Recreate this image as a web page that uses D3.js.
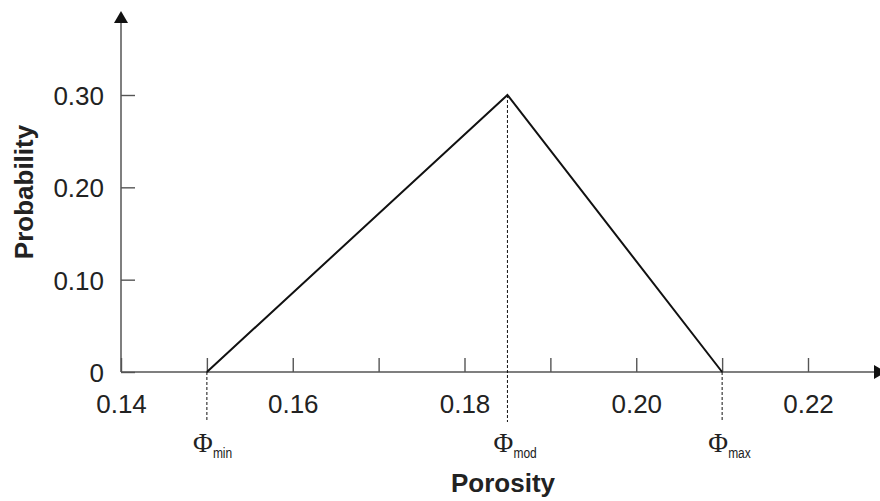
<!DOCTYPE html>
<html>
<head>
<meta charset="utf-8">
<script src="https://cdn.jsdelivr.net/npm/d3@7"></script>
<style>
  body { margin: 0; background: #fff; }
  svg { display: block; }
  .tick text { font-family: "Liberation Sans", Arial, sans-serif; font-size: 26px; fill: #222; }
  .tick line { stroke: #555; stroke-width: 1.4; }
  .label { font-family: "Liberation Sans", Arial, sans-serif; font-size: 26px; font-weight: bold; fill: #222; }
  .phi { font-family: "Liberation Serif", "Times New Roman", serif; font-size: 27px; fill: #222; }
  .sub { font-family: "Liberation Sans", Arial, sans-serif; font-size: 15px; fill: #222; }
</style>
</head>
<body>
<script>
// data
var xTicks = [0.14, 0.15, 0.16, 0.17, 0.18, 0.19, 0.20, 0.21, 0.22];
var xTickLabels = ["0.14", "", "0.16", "", "0.18", "", "0.20", "", "0.22"];
var yTicks = [0, 0.10, 0.20, 0.30];
var yTickLabels = ["0", "0.10", "0.20", "0.30"];
var porosity = [0.15, 0.185, 0.21];
var probability = [0, 0.30, 0];
var markerNames = ["min", "mod", "max"];

var width = 880, height = 501;

var x = d3.scaleLinear()
    .domain([0.14, 0.22])
    .range([121, 808]);

var y = d3.scaleLinear()
    .domain([0, 0.30])
    .range([372, 95]);

var svg = d3.select("body").append("svg")
    .attr("width", width)
    .attr("height", height);

var x0 = x(0.14), y0 = y(0);

// x axis: ticks point up, labels below
var xAxis = d3.axisBottom(x)
    .tickValues(xTicks)
    .tickSizeInner(-14)
    .tickSizeOuter(0)
    .tickFormat(function(d, i) { return xTickLabels[i]; });

var gx = svg.append("g")
    .attr("class", "x axis")
    .attr("transform", "translate(0," + y0 + ")")
    .call(xAxis);
gx.select(".domain").remove();
gx.selectAll(".tick text").attr("y", 41).attr("dy", 0);

// y axis: ticks point right, labels to the left
var yAxis = d3.axisLeft(y)
    .tickValues(yTicks)
    .tickSizeInner(-14)
    .tickSizeOuter(0)
    .tickFormat(function(d, i) { return yTickLabels[i]; });

var gy = svg.append("g")
    .attr("class", "y axis")
    .attr("transform", "translate(" + x0 + ",0)")
    .call(yAxis);
gy.select(".domain").remove();
gy.selectAll(".tick text").attr("x", -17).attr("dy", "0.36em");

// axis lines with arrow heads
svg.append("line")
    .attr("x1", x0).attr("y1", y0)
    .attr("x2", 875).attr("y2", y0)
    .attr("stroke", "#555").attr("stroke-width", 1.5);
svg.append("path")
    .attr("d", "M874," + (y0 - 7) + "L886," + y0 + "L874," + (y0 + 7) + "Z")
    .attr("fill", "#111");

svg.append("line")
    .attr("x1", x0).attr("y1", y0)
    .attr("x2", x0).attr("y2", 22)
    .attr("stroke", "#555").attr("stroke-width", 1.5);
svg.append("path")
    .attr("d", "M" + (x0 - 7) + ",23L" + x0 + ",11L" + (x0 + 7) + ",23Z")
    .attr("fill", "#111");

// dashed guides from each point down below the axis
svg.selectAll(".guide")
    .data(porosity)
  .enter().append("line")
    .attr("class", "guide")
    .attr("x1", function(d) { return x(d); })
    .attr("x2", function(d) { return x(d); })
    .attr("y1", function(d, i) { return y(probability[i]); })
    .attr("y2", y0 + 50)
    .attr("stroke", "#111")
    .attr("stroke-width", 1)
    .attr("stroke-dasharray", "3,2");

// triangular distribution
var line = d3.line()
    .x(function(d) { return x(d); })
    .y(function(d, i) { return y(probability[i]); });

svg.append("path")
    .datum(porosity)
    .attr("d", line)
    .attr("fill", "none")
    .attr("stroke", "#111")
    .attr("stroke-width", 2);

// Φ labels with narrow subscripts
svg.selectAll(".phi")
    .data(porosity)
  .enter().append("text")
    .attr("class", "phi")
    .attr("x", function(d) { return x(d) - 14; })
    .attr("y", y0 + 80)
    .text("Φ");

svg.selectAll(".sub")
    .data(porosity)
  .enter().append("text")
    .attr("class", "sub")
    .attr("transform", function(d) {
      return "translate(" + (x(d) + 6) + "," + (y0 + 86) + ") scale(0.8,1)";
    })
    .text(function(d, i) { return markerNames[i]; });

// axis titles
svg.append("text")
    .attr("class", "label")
    .attr("x", 503)
    .attr("y", 492)
    .style("text-anchor", "middle")
    .text("Porosity");

svg.append("text")
    .attr("class", "label")
    .attr("transform", "translate(33,192) rotate(-90)")
    .style("text-anchor", "middle")
    .text("Probability");
</script>
</body>
</html>
